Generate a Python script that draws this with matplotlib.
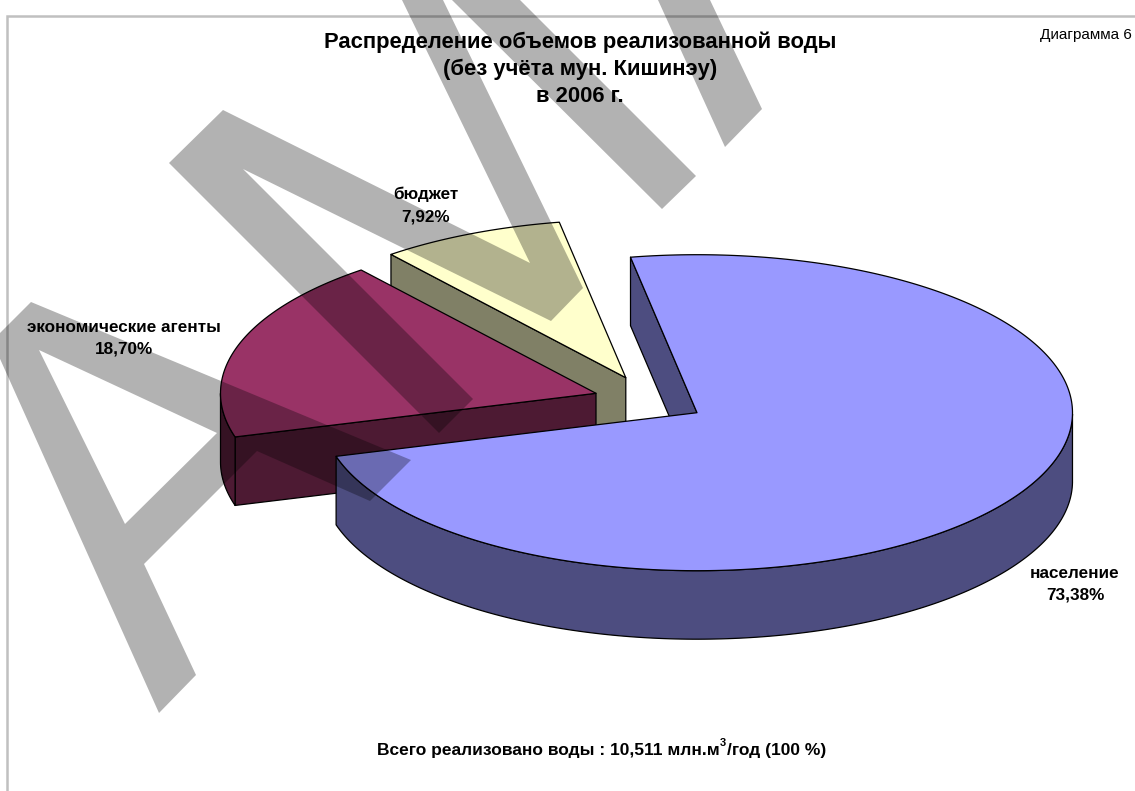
# plot.py
import numpy as np
import matplotlib
matplotlib.use('Agg')
import matplotlib.pyplot as plt
from matplotlib.path import Path
from matplotlib.patches import PathPatch, Polygon

plt.rcParams['font.family'] = ['Liberation Sans', 'DejaVu Sans']

# Data
categorias = ['население', 'экономические агенты', 'бюджет']
valores = [73.38, 18.70, 7.92]
etiquetas_valor = ['73,38%', '18,70%', '7,92%']
titulo = ['Распределение объемов реализованной воды', '(без учёта мун. Кишинэу)', 'в 2006 г.']

# Pie geometry (pixels)
ANGULO_INICIO = 100.2
RX, RY, PROF = 375.5, 158, 68.5
centros = [(697, 412.7), (596, 393.3), (625.8, 377.7)]
colores = ['#9999FF', '#993366', '#FFFFCC']
oscuros = ['#4D4D80', '#4D1A33', '#808066']
pos_etiquetas = [(1075, 578, 600), (124, 332, 354), (426, 199, 221.5)]

fig = plt.figure(figsize=(11.35, 7.91), dpi=100)
ax = fig.add_axes([0, 0, 1, 1])
ax.set_xlim(0, 1135)
ax.set_ylim(791, 0)
ax.axis('off')

# Frame
ax.plot([7.2, 7.2, 1135], [791, 15.5, 15.5], color='#C0C0C0', lw=1.8, zorder=1,
        solid_joinstyle='miter')


def punto(c, t):
    return c[0] + RX * np.cos(t), c[1] - RY * np.sin(t)


def dibujar_sector(c, t0, t1, color, oscuro, z):
    ts = np.radians(np.linspace(t0, t1, 300))
    x, y = punto(c, ts)
    kw = dict(edgecolor='black', linewidth=0.9, joinstyle='round', zorder=z)
    # side faces that look towards the viewer
    for t, visible in ((ts[0], np.cos(ts[0]) < 0), (ts[-1], np.cos(ts[-1]) > 0)):
        if visible:
            px, py = punto(c, t)
            ax.add_patch(Polygon([c, (px, py), (px, py + PROF), (c[0], c[1] + PROF)],
                                 facecolor=oscuro, **kw))
    # outer wall, front half only
    m = np.sin(ts) <= 0
    if m.any():
        arriba = np.column_stack([x[m], y[m]])
        abajo = np.column_stack([x[m], y[m] + PROF])[::-1]
        ax.add_patch(Polygon(np.vstack([arriba, abajo]), facecolor=oscuro, **kw))
    # top
    ax.add_patch(Polygon(np.vstack([[c], np.column_stack([x, y])]), facecolor=color, **kw))


# Angles come from the values; painted back to front
angulos = [ANGULO_INICIO]
for v in valores:
    angulos.append(angulos[-1] - v / sum(valores) * 360)

for i in [2, 1, 0]:
    dibujar_sector(centros[i], angulos[i], angulos[i + 1], colores[i], oscuros[i], 2 + 3 - i)

# Watermark, darkens everything under it
marca_a = [(31, 302), (411, 460), (370, 501), (257, 451), (144, 564), (196, 675), (159, 713), (-8, 341), (31, 302)]
marca_a_hueco = [(39, 350), (125, 524), (217, 433), (39, 350)]
marca_m = [(223, 110), (530, 263), (402, 0), (443, 0), (583, 288), (551, 321), (243, 169),
           (473, 399), (439, 433), (169, 163), (223, 110)]
marca_b = [(452, 0), (520, 0), (696, 176), (662, 209), (452, 0)]
marca_c = [(658, 0), (710, 0), (762, 109), (725, 147), (658, 0)]

for anillos in ([marca_a, marca_a_hueco], [marca_m], [marca_b], [marca_c]):
    verts, codes = [], []
    for r in anillos:
        verts += r
        codes += [Path.MOVETO] + [Path.LINETO] * (len(r) - 2) + [Path.CLOSEPOLY]
    ax.add_patch(PathPatch(Path(verts, codes), facecolor='black', edgecolor='none',
                           alpha=0.30, zorder=10))

# Text
for linea, y in zip(titulo, [48, 75, 101.5]):
    ax.text(580, y, linea, ha='center', va='baseline', fontsize=15.8, fontweight='bold', zorder=20)

ax.text(1132, 39.5, 'Диаграмма 6', ha='right', va='baseline', fontsize=11, zorder=20)

for nombre, valor, (x, y1, y2) in zip(categorias, etiquetas_valor, pos_etiquetas):
    ax.text(x, y1, nombre, ha='center', va='baseline', fontsize=12.3, fontweight='bold', zorder=20)
    ax.text(x, y2, valor, ha='center', va='baseline', fontsize=12.3, fontweight='bold', zorder=20)

ax.text(377, 755, 'Всего реализовано воды : 10,511 млн.м', ha='left', va='baseline',
        fontsize=12.5, fontweight='bold', zorder=20)
ax.text(719.5, 746, '3', ha='left', va='baseline', fontsize=8, fontweight='bold', zorder=20)
ax.text(727, 755, '/год (100 %)', ha='left', va='baseline', fontsize=12.5, fontweight='bold', zorder=20)

fig.savefig('out.png', dpi=100)
